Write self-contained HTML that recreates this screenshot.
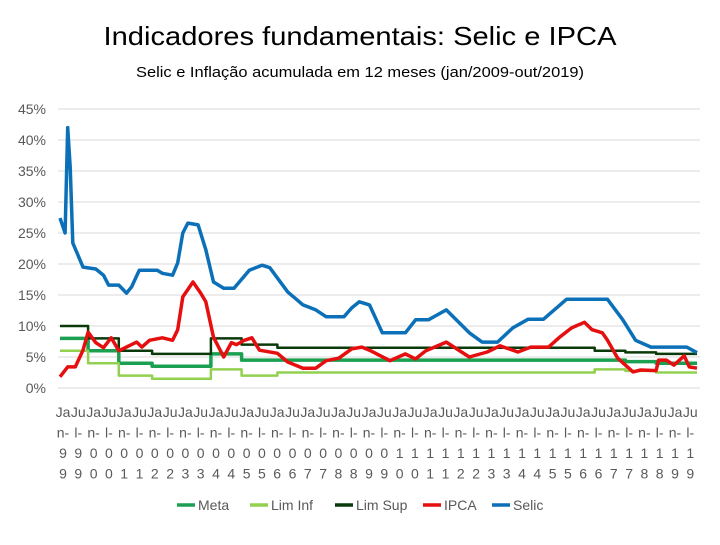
<!DOCTYPE html>
<html><head><meta charset="utf-8">
<style>
body{margin:0;background:#fff;width:720px;height:540px;overflow:hidden;font-family:"Liberation Sans",sans-serif;}
svg text{font-family:"Liberation Sans",sans-serif;}
</style></head>
<body>
<svg id="chart" width="720" height="540" xmlns="http://www.w3.org/2000/svg">
<text x="360" y="45" text-anchor="middle" font-size="26" textLength="513" lengthAdjust="spacingAndGlyphs" fill="#000">Indicadores fundamentais: Selic e IPCA</text>
<text x="360" y="77" text-anchor="middle" font-size="15" textLength="448" lengthAdjust="spacingAndGlyphs" fill="#000">Selic e Inflação acumulada em 12 meses (jan/2009-out/2019)</text>
<g id="grid"></g>
<g id="yaxis"></g>
<g id="xaxis"></g>
<g id="series"></g>
<g id="legend"></g>
</svg>
<script>
const yTicks=[0,5,10,15,20,25,30,35,40,45];
const xYears=[1999,2000,2001,2002,2003,2004,2005,2006,2007,2008,2009,2010,2011,2012,2013,2014,2015,2016,2017,2018,2019];
const xHalves=["Ja","Ju"];
const selicMonths=[0,2,3,4,5,9,14,17,19,23,26,28,31,38,40,44,46,48,50,54,57,60,64,68,74,79,82,89,95,100,104,111,114,117,121,126,135,139,144,151,160,165,171,177,183,189,198,214,220,225,231,245,249];
const selicValues=[27.4,25,42,35.6,23.4,19.5,19.2,18.2,16.6,16.6,15.3,16.3,19,19,18.5,18.2,20.2,25,26.6,26.3,22.3,17.1,16.1,16.1,19,19.8,19.4,15.5,13.4,12.6,11.5,11.5,12.9,13.9,13.4,8.9,8.9,11,11,12.6,8.9,7.4,7.4,9.7,11.1,11.1,14.3,14.3,11,7.7,6.6,6.6,5.7];
const ipcaMonths=[0,3,6,9,11,14,17,20,23,30,32,35,40,44,46,48,52,55,57,60,64,67,69,72,75,78,85,89,95,100,104,109,114,118,121,129,135,139,143,151,160,167,172,179,184,191,195,200,205,208,212,214,218,224,227,233,234,237,240,244,246,249];
const ipcaValues=[1.8,3.4,3.4,6.1,9,7.3,6.5,8.1,6,7.4,6.6,7.7,8.1,7.7,9.4,14.7,17.1,15.3,13.9,8.2,5,7.3,7,7.7,8.1,6.1,5.6,4.2,3.2,3.2,4.4,4.8,6.3,6.6,6.1,4.4,5.5,4.7,6,7.4,5,5.8,6.8,5.8,6.6,6.6,8.1,9.7,10.6,9.4,8.9,7.7,4.8,2.6,2.9,2.8,4.5,4.5,3.7,5.2,3.4,3.2];
const stepMonths=[0,11,23,36,59,71,85,209,221,233,249];
const metaValues=[8,6,4,3.5,5.5,4.5,4.5,4.5,4.25,4,4];
const supValues=[10,8,6,5.5,8,7,6.5,6,5.75,5.5,5.5];
const infValues=[6,4,2,1.5,3,2,2.5,3,2.75,2.5,2.5];

const NS="http://www.w3.org/2000/svg";
const X0=60,X1=697,Y0=388,PX=6.2;
const xm=m=>X0+m*(X1-X0)/249;
const yv=v=>Y0-v*PX;
function mk(tag,attrs,parent){const e=document.createElementNS(NS,tag);for(const k in attrs)e.setAttribute(k,attrs[k]);parent.appendChild(e);return e;}
const grid=document.getElementById('grid'),ya=document.getElementById('yaxis'),xa=document.getElementById('xaxis'),ser=document.getElementById('series'),leg=document.getElementById('legend');
yTicks.forEach(t=>{
  const l=mk('line',{x1:58,x2:700,y1:yv(t),y2:yv(t),stroke:'#d9d9d9','stroke-width':1},grid);
  
  
  const tx=mk('text',{x:46,y:yv(t)+5,'text-anchor':'end','font-size':14,fill:'#595959'},ya);
  tx.textContent=t+'%';
  
  
});
let i=0;
xYears.forEach(yr=>{xHalves.forEach(h=>{
  const cx=63+i*15.3;
  const yy=String(yr).slice(2);
  const g=mk('g',{},xa);
  
  
  const lines=[h,h==="Ja"?"n-":"l-",yy[0],yy[1]];
  lines.forEach((s,k)=>{const t=mk('text',{x:cx,y:417+k*20.5,'text-anchor':'middle','font-size':14,fill:'#595959'},g);t.textContent=s;});
  i++;
});});
function stepPts(vals){let p=[];for(let k=0;k<stepMonths.length-1;k++){p.push([xm(stepMonths[k]),yv(vals[k])]);p.push([xm(stepMonths[k+1]),yv(vals[k])]);}return p;}
function draw(pts,color,w,name){
  const p=mk('polyline',{points:pts.map(q=>q[0].toFixed(1)+','+q[1].toFixed(1)).join(' '),fill:'none',stroke:color,'stroke-width':w,'stroke-linejoin':'round'},ser);
  
  
}
const C={meta:'#1aa050',inf:'#92d050',sup:'#0a3a0a',ipca:'#e60f0f',selic:'#0b70b8'};
draw(stepPts(metaValues),C.meta,3.5,'meta-line');
draw(stepPts(infValues),C.inf,2.5,'lim-inf-line');
draw(stepPts(supValues),C.sup,2.5,'lim-sup-line');
draw(ipcaMonths.map((m,k)=>[xm(m),yv(ipcaValues[k])]),C.ipca,3.5,'ipca-line');
draw(selicMonths.map((m,k)=>[xm(m),yv(selicValues[k])]),C.selic,3.5,'selic-line');
const legendItems=[['Meta',177,C.meta],['Lim Inf',250,C.inf],['Lim Sup',335,C.sup],['IPCA',423,C.ipca],['Selic',492,C.selic]];
legendItems.forEach(([lab,x,c])=>{
  const g=mk('g',{},leg);
  
  
  mk('line',{x1:x,x2:x+18,y1:505,y2:505,stroke:c,'stroke-width':3.5},g);
  const t=mk('text',{x:x+21,y:510,'font-size':14,fill:'#595959'},g);t.textContent=lab;
});
</script>
</body></html>
